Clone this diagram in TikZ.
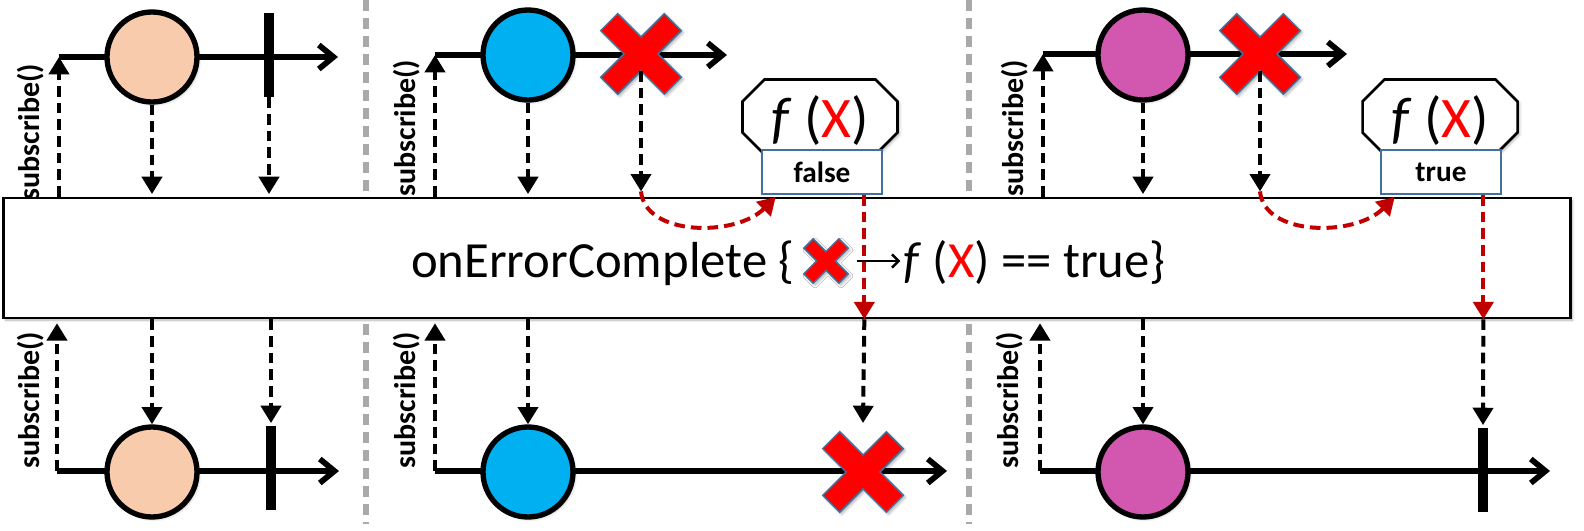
\documentclass[tikz,border=0pt]{standalone}
\usepackage{fontspec}
\setmainfont{Carlito}
\usetikzlibrary{arrows.meta,shadows.blur,calc}

\definecolor{peachball}{HTML}{F8CBAD}
\definecolor{cyanball}{HTML}{00B0F0}
\definecolor{magball}{HTML}{D157AF}
\definecolor{xred}{HTML}{FF0000}
\definecolor{xedge}{HTML}{41719C}
\definecolor{errline}{HTML}{C00000}
\definecolor{sepgray}{HTML}{ABA8A8}

\tikzset{
	softshadow/.style={blur shadow={shadow xshift=1.5pt, shadow yshift=-1.5pt, shadow blur radius=2pt, shadow opacity=30}},
	timeline/.style={line width=4.3pt, -{Straight Barb[length=11pt,width=18pt]}},
	obsarrow/.style={line width=3pt, dash pattern=on 8pt off 4.5pt, -{Triangle[length=13pt,width=15pt]}},
	redarrow/.style={obsarrow, draw=errline},
	textarrow/.style={line width=1.8pt, shorten >=2pt, -{Straight Barb[length=5pt,width=10pt]}},
	ball/.style={circle, draw, line width=4pt, minimum size=67.5pt, inner sep=0pt, softshadow},
	donebar/.style={rectangle, fill=black, minimum width=7pt, minimum height=63pt, inner sep=0pt},
	opframe/.style={rectangle, draw, line width=1.9pt, fill=white, minimum width=1175pt, minimum height=90pt, softshadow},
	maintext/.style={inner sep=0pt, font=\fontsize{38}{42}\selectfont},
	fxtext/.style={inner sep=0pt, font=\fontsize{43}{46}\selectfont},
	resbox/.style={rectangle, draw=xedge, line width=1.5pt, fill=white, minimum width=90pt, minimum height=33pt, font=\bfseries\fontsize{22}{25}\selectfont},
	sublabel/.style={rotate=90, inner sep=0pt, font=\bfseries\fontsize{22.5}{25}\selectfont},
	sepline/.style={draw=sepgray, line width=3.9pt, dash pattern=on 8.5pt off 5pt},
	errx/.pic={
		\draw[line width=1.1pt, draw=xedge, fill=xred, rotate=45, softshadow]
			(12,45) -- (12,12) -- (45,12) -- (45,-12) -- (12,-12) -- (12,-45) -- (-12,-45) -- (-12,-12)
			-- (-45,-12) -- (-45,12) -- (-12,12) -- (-12,45) -- cycle;
		\coordinate (-c) at (0,0);
		\coordinate (-n) at (0,17);
		\coordinate (-t) at (0,-49);
		\coordinate (-r) at (41,0);
	},
	fxpic/.pic={
		\draw[line width=1.9pt, fill=white, softshadow]
			(-55.5,-37.5) -- (55.5,-37.5) -- (77.5,-15.5) -- (77.5,15.5) -- (55.5,37.5)
			-- (-55.5,37.5) -- (-77.5,15.5) -- (-77.5,-15.5) -- cycle;
		\node[fxtext] (-txt) at (0,4) {\textit{f} (\textcolor{xred}{X})};
	}
}

\begin{document}
\begin{tikzpicture}[x=0.75pt, y=-0.75pt]
	%%%%% START %%%%%
	\useasboundingbox (0,0) rectangle (1584,531);
	
	\draw[sepline] (366,0) -- (366,524);
	\draw[sepline] (969,0) -- (969,524);
	
	% operator
	\node[opframe] (op) at (787,258) {};
	\node[maintext, anchor=base west] (oncomp) at (411,277) {onErrorComplete \{};
	\pic[scale=0.55] (xs) at (826,261) {errx};
	\node[maintext, anchor=base west] (fxtail) at (903,277) {\textit{f} (\textcolor{xred}{X}) == true\}};
	\draw[textarrow] ([xshift=6pt]xs-r) -- (xs-r -| fxtail.west);
	
	% first: no error
	\coordinate (t1s) at (59,57);
	\coordinate (t1e) at (338,57);
	\draw[timeline] (t1s) -- (t1e);
	\node[ball, fill=peachball] (c1t) at (152,57) {};
	\node[donebar] (b1t) at (269,55) {};
	\draw[obsarrow] (t1s |- op.north) -- (t1s);
	\node[sublabel] (s1t) at (31,132) {subscribe()};
	\draw[obsarrow] (c1t.south) -- ([yshift=2pt]c1t.south |- op.north);
	\draw[obsarrow] (b1t.south) -- ([yshift=2pt]b1t.south |- op.north);
	
	\coordinate (t1bs) at (57,471);
	\coordinate (t1be) at (339,471);
	\draw[timeline] (t1bs) -- (t1be);
	\node[ball, fill=peachball] (c1b) at (152,472) {};
	\node[donebar] (b1b) at (271,468) {};
	\draw[obsarrow] (t1bs) -- ([yshift=-3pt]t1bs |- op.south);
	\node[sublabel] (s1b) at (31,400) {subscribe()};
	\draw[obsarrow] (c1b.north |- op.south) -- (c1b.north);
	\draw[obsarrow] (b1b.north |- op.south) -- ([yshift=2pt]b1b.north);
	
	% second: f(X) false
	\coordinate (t2s) at (435,55);
	\coordinate (t2e) at (727,55);
	\draw[timeline] (t2s) -- (t2e);
	\node[ball, fill=cyanball] (c2t) at (528,55) {};
	\pic (x2) at (641,54) {errx};
	\draw[obsarrow] (t2s |- op.north) -- (t2s);
	\node[sublabel] (s2t) at (407,128) {subscribe()};
	\draw[obsarrow] (c2t.south) -- ([yshift=2pt]c2t.south |- op.north);
	\coordinate (h2) at ([yshift=4pt]x2-n |- op.north);
	\draw[obsarrow] (x2-n) -- (h2);
	
	\pic (f2) at (820,117) {fxpic};
	\node[resbox] (r2) at (822,172) {false};
	\draw[redarrow] (h2) .. controls +(4,45) and +(-40,40) .. ([xshift=11pt,yshift=-1.5pt]r2.south west);
	\coordinate (d2) at ([xshift=-14pt]r2.south east);
	\draw[redarrow] (d2) -- (d2 |- op.south);
	
	\coordinate (t2bs) at (435,471);
	\coordinate (t2be) at (947,471);
	\draw[timeline] (t2bs) -- (t2be);
	\node[ball, fill=cyanball] (c2b) at (528,472) {};
	\pic (x2b) at (863,472) {errx};
	\draw[obsarrow] (t2bs) -- ([yshift=-3pt]t2bs |- op.south);
	\node[sublabel] (s2b) at (407,400) {subscribe()};
	\draw[obsarrow] (c2b.north |- op.south) -- (c2b.north);
	\draw[obsarrow] (d2 |- op.south) -- (x2b-t);
	
	% third: f(X) true
	\coordinate (t3s) at (1043,54);
	\coordinate (t3e) at (1347,54);
	\draw[timeline] (t3s) -- (t3e);
	\node[ball, fill=magball] (c3t) at (1143,55) {};
	\pic (x3) at (1260,54) {errx};
	\draw[obsarrow] (t3s |- op.north) -- (t3s);
	\node[sublabel] (s3t) at (1015,128) {subscribe()};
	\draw[obsarrow] (c3t.south) -- ([yshift=2pt]c3t.south |- op.north);
	\coordinate (h3) at ([yshift=4pt]x3-n |- op.north);
	\draw[obsarrow] (x3-n) -- (h3);
	
	\pic (f3) at (1440,117) {fxpic};
	\node[resbox] (r3) at (1441,172) {true};
	\draw[redarrow] (h3) .. controls +(4,45) and +(-40,40) .. ([xshift=11pt,yshift=-1.5pt]r3.south west);
	\coordinate (d3) at ([xshift=-14pt]r3.south east);
	\draw[redarrow] (d3) -- (d3 |- op.south);
	
	\coordinate (t3bs) at (1040,471);
	\coordinate (t3be) at (1550,471);
	\draw[timeline] (t3bs) -- (t3be);
	\node[ball, fill=magball] (c3b) at (1143,472) {};
	\node[donebar] (b3b) at (1483,470) {};
	\draw[obsarrow] (t3bs) -- ([yshift=-3pt]t3bs |- op.south);
	\node[sublabel] (s3b) at (1010,400) {subscribe()};
	\draw[obsarrow] (c3b.north |- op.south) -- (c3b.north);
	\draw[obsarrow] (d3 |- op.south) -- ([yshift=2pt]b3b.north);
	
	%%%%% END %%%%%
\end{tikzpicture}
\end{document}
